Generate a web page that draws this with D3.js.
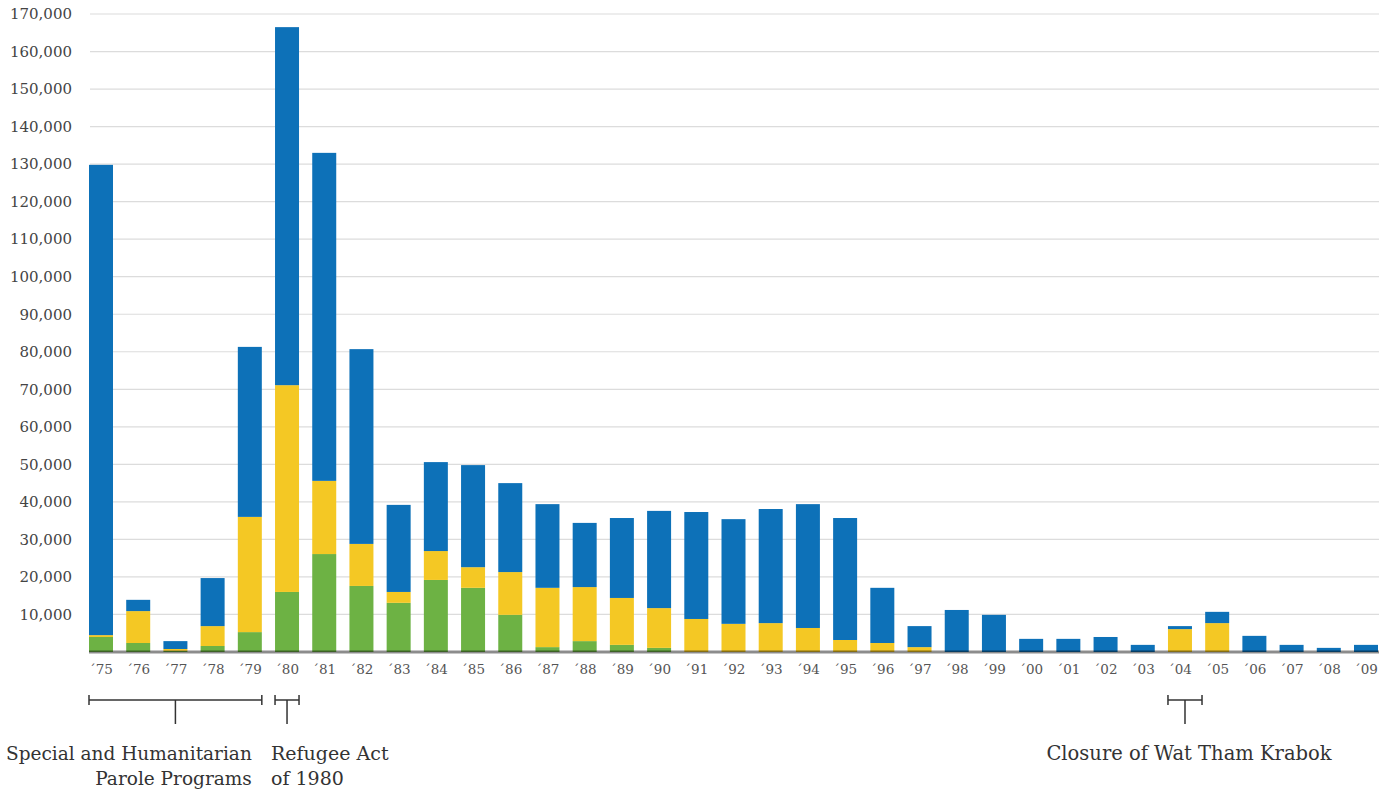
<!DOCTYPE html>
<html>
<head>
<meta charset="utf-8">
<script src="https://cdn.jsdelivr.net/npm/d3@7"></script>
<style>
  body { margin: 0; background: #fff; }
  text { font-family: "DejaVu Serif", serif; }
</style>
</head>
<body>
<div id="chart"></div>
<script>
// values (people per year), stacked bottom to top
var years  = ["75","76","77","78","79","80","81","82","83","84","85","86","87","88","89","90","91","92",
              "93","94","95","96","97","98","99","00","01","02","03","04","05","06","07","08","09"];
var green  = [4000,2400,300,1600,5300,16000,26100,17600,13100,19200,17100,9900,1300,2900,1900,1100,0,0,
              0,0,0,0,0,0,0,0,0,0,0,0,0,0,0,0,0];
var yellow = [500,8500,500,5300,30700,55100,19500,11200,2900,7700,5500,11400,15800,14400,12500,10600,8800,7500,
              7700,6400,3200,2400,1300,0,0,0,0,0,0,6100,7700,0,0,0,0];
var blue   = [125300,3000,2100,12800,45300,95400,87400,51900,23200,23700,27200,23700,22300,17100,21300,25900,28500,27900,
              30400,33000,32500,14700,5600,11200,9900,3500,3500,4000,1900,800,3000,4300,1900,1100,1900];
var yTicks = d3.range(10000, 170001, 10000);

// brackets under the axis: first year, last year, extra bands past the last one
var notes = [
  {from: "75", to: "79", extra: 0,    lines: ["Special and Humanitarian", "Parole Programs"], anchor: "end"},
  {from: "80", to: "80", extra: 0,    lines: ["Refugee Act", "of 1980"], anchor: "start"},
  {from: "04", to: "04", extra: 0.27, lines: ["Closure of Wat Tham Krabok"], anchor: "middle"}
];

var width = 1379, height = 791;
var svg = d3.select("#chart").append("svg")
    .attr("width", width)
    .attr("height", height);

var rows = years.map(function(y, i) {
  return {year: y, green: green[i], yellow: yellow[i], blue: blue[i]};
});
var keys = ["green", "yellow", "blue"];
var colors = {green: "#6db244", yellow: "#f4c824", blue: "#0d71b8"};

var x = d3.scaleBand()
  .domain(years)
  .range([89, 1378])
  .paddingInner(0.355)
  .paddingOuter(0);

var y = d3.scaleLinear()
  .domain([0, 170000])
  .range([652, 14]);

// gridlines
svg.append("g")
  .selectAll("line")
  .data(yTicks)
  .enter()
  .append("line")
    .attr("x1", 90)
    .attr("x2", width)
    .attr("y1", function(d) { return y(d); })
    .attr("y2", function(d) { return y(d); })
    .attr("stroke", "#dcdcdc")
    .attr("stroke-width", 1.2);

// y axis labels
var yAxis = svg.append("g")
  .attr("transform", "translate(72,0)")
  .call(d3.axisLeft(y).tickValues(yTicks).tickSize(0).tickPadding(0).tickFormat(d3.format(",")));
yAxis.select(".domain").remove();
yAxis.selectAll("text")
  .attr("font-family", "DejaVu Serif")
  .attr("font-size", 15)
  .attr("fill", "#444");

// stacked bars
var stacked = d3.stack().keys(keys)(rows);
svg.append("g")
  .selectAll("g")
  .data(stacked)
  .enter()
  .append("g")
    .attr("fill", function(d) { return colors[d.key]; })
  .selectAll("rect")
  .data(function(d) { return d; })
  .enter()
  .append("rect")
    .attr("x", function(d) { return x(d.data.year); })
    .attr("y", function(d) { return y(d[1]); })
    .attr("width", x.bandwidth())
    .attr("height", function(d) { return y(d[0]) - y(d[1]); });

// baseline
svg.append("line")
  .attr("x1", 89)
  .attr("x2", width)
  .attr("y1", y(0))
  .attr("y2", y(0))
  .attr("stroke", "rgba(0,0,0,0.45)")
  .attr("stroke-width", 3);

// x axis labels
var xAxis = svg.append("g")
  .attr("transform", "translate(0,660)")
  .call(d3.axisBottom(x).tickSize(0).tickPadding(0).tickFormat(function(d) { return "\u00b4" + d; }));
xAxis.select(".domain").remove();
xAxis.selectAll("text")
  .attr("font-family", "DejaVu Serif")
  .attr("font-size", 13.5)
  .attr("fill", "#555")
  .attr("dy", "1em");

// annotation brackets
var ann = svg.append("g").attr("stroke", "#333").attr("stroke-width", 1.5).attr("fill", "none");
notes.forEach(function(n) {
  var x0 = x(n.from),
      x1 = x(n.to) + x.bandwidth() + n.extra * x.step(),
      xm = (x0 + x1) / 2;
  ann.append("line").attr("x1", x0).attr("x2", x1).attr("y1", 700).attr("y2", 700);
  ann.append("line").attr("x1", x0).attr("x2", x0).attr("y1", 695).attr("y2", 705);
  ann.append("line").attr("x1", x1).attr("x2", x1).attr("y1", 695).attr("y2", 705);
  ann.append("line").attr("x1", xm).attr("x2", xm).attr("y1", 700).attr("y2", 724);

  var tx = n.anchor === "end" ? x1 - 10 : n.anchor === "start" ? x0 - 4 : xm + 4;
  var t = svg.append("text")
    .attr("x", tx)
    .attr("y", 760)
    .attr("text-anchor", n.anchor)
    .attr("font-size", n.anchor === "middle" ? 19.5 : n.anchor === "end" ? 18.5 : 19)
    .attr("fill", "#333");
  n.lines.forEach(function(l, i) {
    t.append("tspan").attr("x", tx).attr("dy", i === 0 ? 0 : 25).text(l);
  });
});
</script>
</body>
</html>
